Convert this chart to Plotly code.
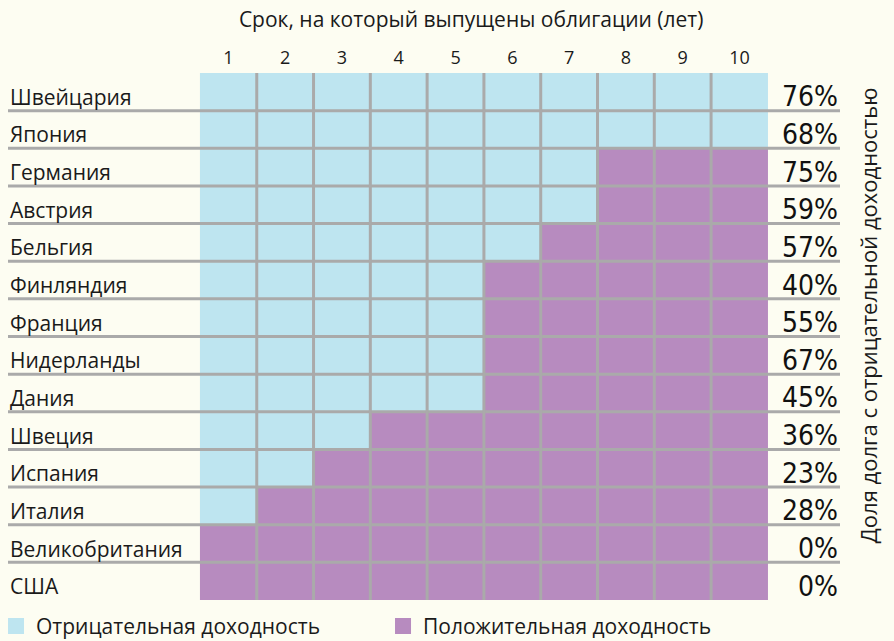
import plotly.graph_objects as go

countries = [
    "Швейцария", "Япония", "Германия", "Австрия", "Бельгия", "Финляндия",
    "Франция", "Нидерланды", "Дания", "Швеция", "Испания", "Италия",
    "Великобритания", "США",
]
# number of maturities (years) with negative yield, per country
negative_years = [10, 10, 7, 7, 6, 5, 5, 5, 5, 3, 2, 1, 0, 0]
negative_share = [76, 68, 75, 59, 57, 40, 55, 67, 45, 36, 23, 28, 0, 0]
maturities = list(range(1, 11))

BLUE = "#bee5f0"
PURPLE = "#b78bbf"
GRID = "#aaaaaa"
BG = "#fdfdf2"
LABEL_FONT = "Open Sans, Noto Sans, sans-serif"
NUM_FONT = "Liberation Sans Narrow, DejaVu Sans Condensed, sans-serif"

rows = list(range(len(countries)))
z = [[0 if m <= n else 1 for m in maturities] for n in negative_years]

x_range = [-2.88, 11.77]

fig = go.Figure()

fig.add_trace(
    go.Heatmap(
        x=maturities,
        y=rows,
        z=z,
        zmin=0,
        zmax=1,
        colorscale=[[0, BLUE], [1, PURPLE]],
        showscale=False,
        hoverinfo="skip",
        showlegend=False,
    )
)

# row separators, spanning labels, cells and percentages
hx, hy = [], []
for i in rows[:-1]:
    hx += [x_range[0], x_range[1], None]
    hy += [i + 0.5, i + 0.5, None]
fig.add_trace(
    go.Scatter(x=hx, y=hy, mode="lines", line=dict(color=GRID, width=3),
               hoverinfo="skip", showlegend=False)
)

# column separators inside the grid
vx, vy = [], []
for m in maturities[:-1]:
    vx += [m + 0.5, m + 0.5, None]
    vy += [-0.5, len(countries) - 0.5, None]
fig.add_trace(
    go.Scatter(x=vx, y=vy, mode="lines", line=dict(color=GRID, width=3),
               hoverinfo="skip", showlegend=False)
)

# legend entries
fig.add_trace(
    go.Scatter(x=[None], y=[None], mode="markers", name="Отрицательная доходность",
               marker=dict(symbol="square", size=18, color=BLUE))
)
fig.add_trace(
    go.Scatter(x=[None], y=[None], mode="markers", name="Положительная доходность",
               marker=dict(symbol="square", size=18, color=PURPLE))
)

for i, (name, share) in enumerate(zip(countries, negative_share)):
    fig.add_annotation(
        x=0, xref="paper", y=i, yref="y", text=name, showarrow=False,
        xanchor="left", yanchor="middle", yshift=-5,
        font=dict(family=LABEL_FONT, size=21, color="#1a1a1a"),
    )
    fig.add_annotation(
        x=1, xref="paper", y=i, yref="y", text=f"{share}%", showarrow=False,
        xanchor="right", yanchor="middle", yshift=-5,
        font=dict(family=NUM_FONT, size=28, color="#111111"),
    )

fig.add_annotation(
    x=1.034, xref="paper", y=0.541, yref="paper",
    text="Доля долга с отрицательной доходностью", textangle=-90,
    showarrow=False, xanchor="center", yanchor="middle",
    font=dict(family=LABEL_FONT, size=22, color="#1a1a1a"),
)

fig.update_layout(
    width=894,
    height=641,
    paper_bgcolor=BG,
    plot_bgcolor=BG,
    margin=dict(l=8, r=54, t=73, b=41, autoexpand=False),
    title=dict(
        text="Срок, на который выпущены облигации (лет)",
        x=0.527, xanchor="center", y=0.969, yanchor="middle",
        font=dict(family=LABEL_FONT, size=21, color="#1a1a1a"),
    ),
    xaxis=dict(
        range=x_range,
        side="top",
        tickvals=maturities,
        ticks="",
        ticklabelstandoff=4,
        showgrid=False,
        zeroline=False,
        showline=False,
        tickfont=dict(family=LABEL_FONT, size=18, color="#1a1a1a"),
    ),
    yaxis=dict(
        range=[len(countries) - 0.5, -0.5],
        showticklabels=False,
        showgrid=False,
        zeroline=False,
        showline=False,
    ),
    legend=dict(
        orientation="h",
        x=-0.0144, xanchor="left",
        y=-0.05, yanchor="middle",
        entrywidth=342,
        bgcolor="rgba(0,0,0,0)",
        font=dict(family=LABEL_FONT, size=21, color="#1a1a1a"),
        itemclick=False,
    ),
)

fig.write_html(
    "out.html",
    config=dict(displayModeBar=False),
    post_script=f"document.body.style.margin='0';document.body.style.background='{BG}';",
)
